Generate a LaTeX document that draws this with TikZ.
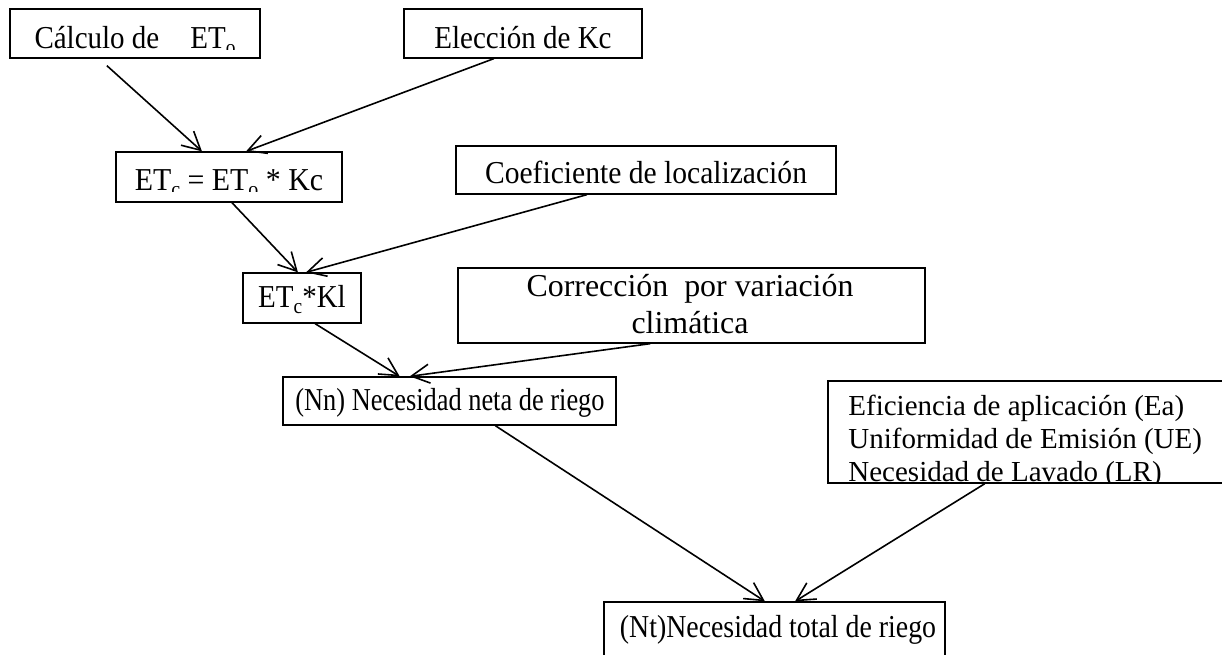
\documentclass[tikz,border=0pt]{standalone}
\usepackage{fontspec}
\setmainfont{Liberation Serif}
\usetikzlibrary{arrows.meta,calc,fit}
\newcommand{\sbs}[1]{\raisebox{-0.2em}{\fontsize{9.7}{10}\selectfont #1}}
\newcommand{\stx}[2]{\scalebox{#1}[1.1]{#2}}
\begin{document}
\begin{tikzpicture}[x=0.5pt,y=-0.5pt,
  box/.style={draw, line width=0.65pt, inner sep=0pt},
  txt/.style={font=\fontsize{14.5}{17}\selectfont, anchor=base, inner sep=0pt},
  ltxt/.style={font=\fontsize{14.5}{17}\selectfont, anchor=base west, inner sep=0pt},
  arr/.style={line width=0.8pt, -{Straight Barb[length=9pt,width=9.5pt,line width=0.8pt]}}]
\useasboundingbox (0,0) rectangle (1222,654);
% boxes
\node[box, fit={(10,9) (260,58)}] (b1) {};
\node[box, fit={(404,9) (642,58)}] (b2) {};
\node[box, fit={(116,152) (342,202)}] (b3) {};
\node[box, fit={(456,146) (836,194)}] (b4) {};
\node[box, fit={(243,273) (361,323)}] (b5) {};
\node[box, fit={(458,268) (925,343)}] (b6) {};
\node[box, fit={(283,377) (616,425)}] (b7) {};
\node[box, fit={(828,381) (1240,483)}] (b8) {};
\node[box, fit={(604,602) (945,680)}] (b9) {};
% texts
\begin{scope}
  \clip (10,9) rectangle (260,49);
  \node[txt] (t1) at (135,48) {\stx{1}{Cálculo de\hspace{1.07em}ET\sbs{o}}};
\end{scope}
\node[txt] (t2) at (523,48) {\stx{1}{Elección de Kc}};
\begin{scope}
  \clip (116,152) rectangle (342,191);
  \node[txt] (t3) at (229,190) {\stx{1.03}{ET\sbs{c} = ET\sbs{o} * Kc}};
\end{scope}
\node[txt] (t4) at (646,183) {\stx{1.02}{Coeficiente de localización}};
\node[txt] (t5) at (302,307) {\stx{1}{ET\sbs{c}*Kl}};
\node[txt] (t6a) at (690,296) {\stx{1.1}{Corrección\ \ por variación}};
\node[txt] (t6b) at (690,333) {\stx{1.1}{climática}};
\node[txt] (t7) at (450,410) {\stx{0.91}{(Nn) Necesidad neta de riego}};
\node[ltxt] (t8a) at (848,415) {Eficiencia de aplicación (Ea)};
\node[ltxt] (t8b) at (848,448) {Uniformidad de Emisión (UE)};
\begin{scope}
  \clip (828,381) rectangle (1222,483);
  \node[ltxt] (t8c) at (848,481) {Necesidad de Lavado (LR)};
\end{scope}
\node[txt] (t9) at (778,637) {\stx{0.96}{(Nt)Necesidad total de riego}};
% connectors
\draw[arr] ($(b1.south west)!0.388!(b1.south east)+(0,7)$) -- ($(b3.north west)!0.381!(b3.north east)$);
\draw[arr] ($(b2.south west)!0.378!(b2.south east)$) -- ($(b3.north west)!0.575!(b3.north east)$);
\draw[arr] ($(b3.south west)!0.513!(b3.south east)$) -- ($(b5.north west)!0.466!(b5.north east)$);
\draw[arr] ($(b4.south west)!0.345!(b4.south east)$) -- ($(b5.north west)!0.534!(b5.north east)$);
\draw[arr] ($(b5.south west)!0.61!(b5.south east)$) -- ($(b7.north west)!0.351!(b7.north east)$);
\draw[arr] ($(b6.south west)!0.412!(b6.south east)$) -- ($(b7.north west)!0.381!(b7.north east)$);
\draw[arr] ($(b7.south west)!0.637!(b7.south east)$) -- ($(b9.north west)!0.472!(b9.north east)$);
\draw[arr] ($(b8.south west)!0.381!(b8.south east)$) -- ($(b9.north west)!0.56!(b9.north east)$);
\end{tikzpicture}
\end{document}
